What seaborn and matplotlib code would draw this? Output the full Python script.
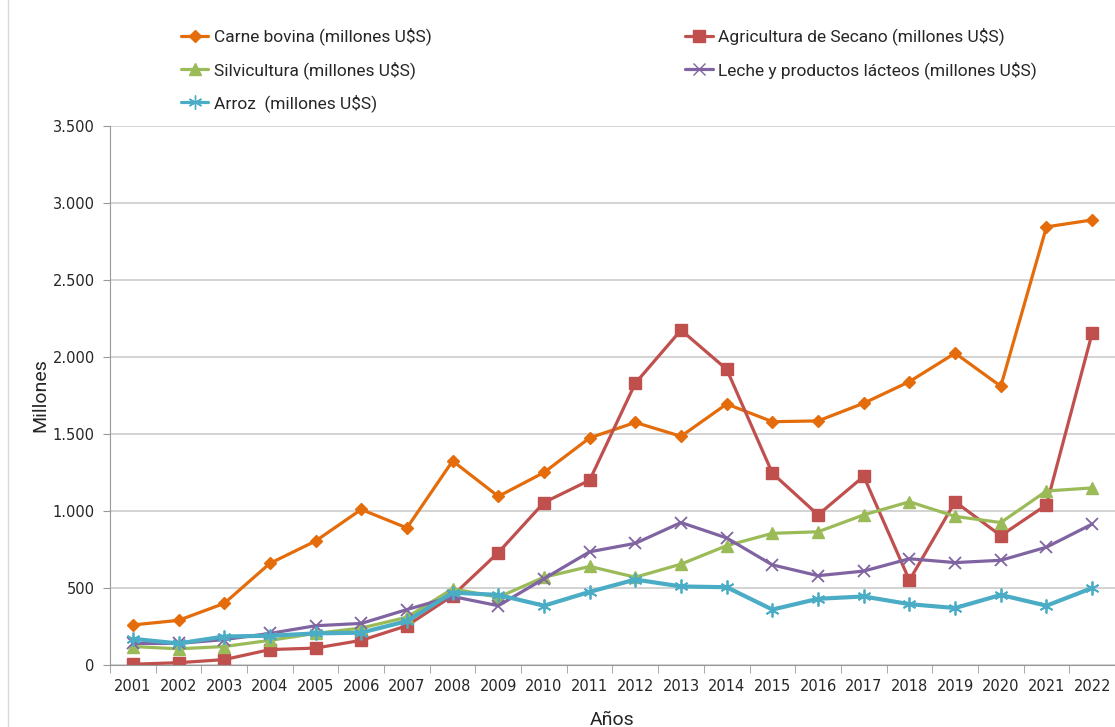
import matplotlib
matplotlib.use('Agg')
import matplotlib.pyplot as plt
import matplotlib.ticker as mticker
from matplotlib.lines import Line2D
import seaborn as sns
import pandas as pd

anios = list(range(2001, 2023))

carne = [260, 290, 400, 660, 805, 1010, 890, 1325, 1095, 1250, 1475,
         1575, 1485, 1695, 1580, 1585, 1700, 1840, 2025, 1810, 2845, 2890]
secano = [5, 15, 35, 100, 110, 160, 255, 450, 730, 1055, 1200,
          1830, 2175, 1920, 1245, 975, 1225, 550, 1060, 840, 1040, 2155]
silvicultura = [120, 105, 120, 160, 205, 240, 310, 495, 440, 570, 640,
                570, 655, 775, 855, 865, 975, 1060, 965, 925, 1130, 1150]
leche = [140, 140, 165, 205, 255, 270, 360, 445, 385, 560, 735,
         790, 925, 825, 650, 580, 610, 690, 665, 680, 765, 915]
arroz = [170, 140, 185, 190, 205, 210, 285, 470, 455, 385, 475,
         555, 510, 505, 360, 430, 445, 395, 370, 455, 385, 500]

nombres = ['Carne bovina (millones U$S)',
           'Agricultura de Secano (millones U$S)',
           'Silvicultura (millones U$S)',
           'Leche y productos lácteos (millones U$S)',
           'Arroz  (millones U$S)']
series = [carne, secano, silvicultura, leche, arroz]
colores = ['#E46C0A', '#C0504D', '#9BBB59', '#8064A2', '#4BACC6']
marcadores = ['D', 's', '^', 'x', (6, 2, 0)]
tamanios = [6.5, 9, 8, 9, 10]
grosores = [2.3, 2.3, 2.3, 2.3, 3.0]

df = pd.DataFrame({'Año': anios})
for n, s in zip(nombres, series):
    df[n] = s

sns.set_style('white')
plt.rcParams['font.family'] = ['Roboto', 'DejaVu Sans']

fig = plt.figure(figsize=(11.15, 7.27), dpi=100)
ax = fig.add_axes([110 / 1115, 1 - 665 / 727, 1005 / 1115, (665 - 126) / 727])

for n, c, m, t, g in zip(nombres, colores, marcadores, tamanios, grosores):
    sns.lineplot(data=df, x='Año', y=n, color=c, marker=m, markersize=t,
                 markerfacecolor=c, markeredgecolor=c,
                 markeredgewidth=1.3 if m in ('x', (6, 2, 0)) else 1,
                 linewidth=g, ax=ax, label=n, legend=False)

ax.set_xlim(2000.5, 2022.5)
ax.set_ylim(0, 3500)
ax.set_xticks(anios)
ax.set_xticklabels([str(a) for a in anios], fontsize=10.5, family='DejaVu Sans')
ax.xaxis.set_minor_locator(mticker.FixedLocator([a + 0.5 for a in range(2000, 2023)]))
ax.tick_params(axis='x', which='major', length=0, pad=10)
ax.tick_params(axis='x', which='minor', length=6, color='#999999', bottom=True)
ax.yaxis.set_major_locator(mticker.MultipleLocator(500))
ax.yaxis.set_major_formatter(mticker.FuncFormatter(lambda v, p: f'{int(v):,}'.replace(',', '.')))
ax.tick_params(axis='y', length=5, color='#999999', labelsize=10.5, pad=6, left=True)
for lbl in ax.get_yticklabels():
    lbl.set_family('DejaVu Sans')
ax.grid(axis='y', color='#CCCCCC', linewidth=1.2)
ax.set_axisbelow(True)
for s in ['top', 'right']:
    ax.spines[s].set_visible(False)
ax.spines['left'].set_color('#999999')
ax.spines['bottom'].set_color('#999999')

ax.set_xlabel('Años', fontsize=14, labelpad=12)
ax.set_ylabel('Millones', fontsize=14, labelpad=2)

handles = [Line2D([], [], color=c, marker=m, markersize=t, linewidth=2.3,
                  markerfacecolor=c, markeredgecolor=c)
           for c, m, t in zip(colores, marcadores, tamanios)]
orden = [0, 2, 4, 1, 3]
fig.legend([handles[i] for i in orden], [nombres[i] for i in orden],
           ncol=2, loc='upper left', bbox_to_anchor=(165 / 1115, 1 - 12 / 727),
           frameon=False, fontsize=12.5, handlelength=1.6, handletextpad=0.3,
           columnspacing=14.6, labelspacing=0.88)

fig.add_artist(Line2D([8 / 1115, 8 / 1115], [0, 1], color='#D9D9D9', linewidth=1))

plt.savefig('out.png', dpi=100)
